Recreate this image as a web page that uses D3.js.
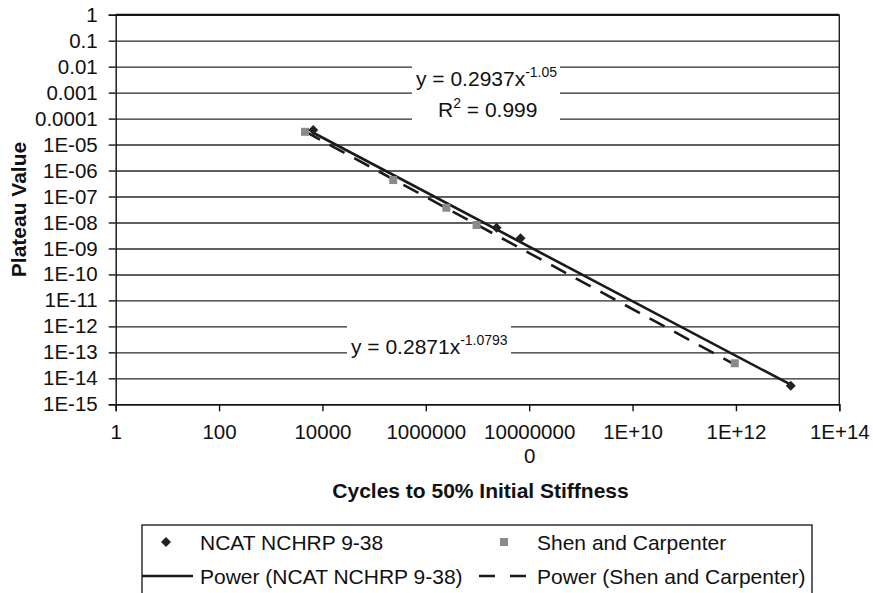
<!DOCTYPE html>
<html>
<head>
<meta charset="utf-8">
<script src="https://cdn.jsdelivr.net/npm/d3@7"></script>
<style>
  body { margin: 0; background: #fff; }
  text { font-family: "Liberation Sans", Arial, sans-serif; fill: #111; }
</style>
</head>
<body>
<div id="wrapper"></div>
<script>
// data
const ncatCycles = [6640, 2.34e7, 6.8e7, 1.15e13]
const ncatPlateau = [3.6e-5, 6.3e-9, 2.45e-9, 5.2e-15]
const shenCycles = [4600, 2.34e5, 2.5e6, 9.6e6, 9.5e11]
const shenPlateau = [3.1e-5, 4.3e-7, 3.7e-8, 8e-9, 3.8e-14]

// power trend lines y = a * x^b
const ncatFit = [0.2937, -1.05]
const shenFit = [0.2871, -1.0793]

const xTicks = [1, 1e2, 1e4, 1e6, 1e8, 1e10, 1e12, 1e14]
const xTickLabels = ["1", "100", "10000", "1000000", "10000000|0", "1E+10", "1E+12", "1E+14"]
const yTicks = [1, 1e-1, 1e-2, 1e-3, 1e-4, 1e-5, 1e-6, 1e-7, 1e-8, 1e-9, 1e-10, 1e-11, 1e-12, 1e-13, 1e-14, 1e-15]
const yTickLabels = ["1", "0.1", "0.01", "0.001", "0.0001", "1E-05", "1E-06", "1E-07", "1E-08", "1E-09",
    "1E-10", "1E-11", "1E-12", "1E-13", "1E-14", "1E-15"]

const width = 873, height = 593
const plotLeft = 115.7, plotRight = 839.3, plotTop = 14.7, plotBottom = 404.3

const x = d3.scaleLog().domain([1, 1e14]).range([plotLeft, plotRight])
const y = d3.scaleLog().domain([1e-15, 1]).range([plotBottom, plotTop])

const svg = d3.select("#wrapper")
    .append("svg")
        .attr("width", width)
        .attr("height", height)

// gridlines
svg.append("g")
    .attr("transform", `translate(${plotLeft},0)`)
    .call(d3.axisLeft(y).tickValues(yTicks).tickSize(-(plotRight - plotLeft)).tickFormat(""))
    .call(g => g.select(".domain").remove())
    .call(g => g.selectAll("line").attr("stroke", "#2a2a2a").attr("stroke-width", 1.4))

// plot border right + top
svg.append("line")
    .attr("x1", plotRight).attr("x2", plotRight).attr("y1", plotTop).attr("y2", plotBottom)
    .attr("stroke", "#222").attr("stroke-width", 1.4)
svg.append("line")
    .attr("x1", plotLeft).attr("x2", plotRight).attr("y1", plotTop).attr("y2", plotTop)
    .attr("stroke", "#111").attr("stroke-width", 2)

// y axis
svg.append("g")
    .attr("transform", `translate(${plotLeft},0)`)
    .call(d3.axisLeft(y).tickValues(yTicks).tickSize(7).tickPadding(11)
        .tickFormat((d, i) => yTickLabels[i]))
    .call(g => g.select(".domain").attr("stroke", "#111").attr("stroke-width", 1.4))
    .call(g => g.selectAll("line").attr("stroke", "#111").attr("stroke-width", 1.4))
    .call(g => g.selectAll("text")
        .attr("font-size", 20.5)
        .attr("font-family", "Liberation Sans, Arial, sans-serif")
        .attr("fill", "#111"))

// x axis
const xAxis = svg.append("g")
    .attr("transform", `translate(0,${plotBottom})`)
    .call(d3.axisBottom(x).tickValues(xTicks).tickSize(7).tickFormat(""))
    .call(g => g.select(".domain").attr("stroke", "#111").attr("stroke-width", 1.4))
    .call(g => g.selectAll("line").attr("stroke", "#111").attr("stroke-width", 1.4))

xAxis.selectAll(".tick").append("text")
    .attr("text-anchor", "middle")
    .attr("font-size", 20.5)
    .attr("font-family", "Liberation Sans, Arial, sans-serif")
    .attr("fill", "#111")
    .each(function (d, i) {
        const parts = xTickLabels[i].split("|")
        d3.select(this).selectAll("tspan")
            .data(parts)
            .join("tspan")
            .attr("x", 0)
            .attr("y", (p, j) => 35 + j * 24)
            .text(p => p)
    })

// axis titles
svg.append("text")
    .attr("transform", `translate(26,${(plotTop + plotBottom) / 2}) rotate(-90)`)
    .attr("text-anchor", "middle")
    .attr("font-size", 21)
    .attr("font-weight", "bold")
    .text("Plateau Value")

svg.append("text")
    .attr("x", (plotLeft + plotRight) / 2 + 3)
    .attr("y", 498)
    .attr("text-anchor", "middle")
    .attr("font-size", 21)
    .attr("font-weight", "bold")
    .text("Cycles to 50% Initial Stiffness")

// trend lines
const line = d3.line().x(d => x(d[0])).y(d => y(d[1]))
const fitPoints = (cycles, fit) => d3.extent(cycles).map(c => [c, fit[0] * Math.pow(c, fit[1])])

svg.append("path")
    .datum(fitPoints(shenCycles, shenFit))
    .attr("d", line)
    .attr("fill", "none")
    .attr("stroke", "#1a1a1a")
    .attr("stroke-width", 2.6)
    .attr("stroke-dasharray", "17,11")

svg.append("path")
    .datum(fitPoints(ncatCycles, ncatFit))
    .attr("d", line)
    .attr("fill", "none")
    .attr("stroke", "#1a1a1a")
    .attr("stroke-width", 2.6)

// markers
const square = d3.symbol().type(d3.symbolSquare)

svg.append("g")
    .selectAll("path")
    .data(shenCycles.map((c, i) => [c, shenPlateau[i]]))
    .join("path")
    .attr("d", square.size(64))
    .attr("transform", d => `translate(${x(d[0])},${y(d[1])})`)
    .attr("fill", "#8a8a8a")

svg.append("g")
    .selectAll("path")
    .data(ncatCycles.map((c, i) => [c, ncatPlateau[i]]))
    .join("path")
    .attr("d", square.size(50))
    .attr("transform", d => `translate(${x(d[0])},${y(d[1])}) rotate(45)`)
    .attr("fill", "#222")

// equation labels
const eq1 = svg.append("g")
eq1.append("rect")
    .attr("x", 412).attr("y", 62).attr("width", 148).attr("height", 63)
    .attr("fill", "#fff")
const t1 = eq1.append("text").attr("x", 416).attr("y", 86).attr("font-size", 21)
t1.append("tspan").text("y = 0.2937x")
t1.append("tspan").attr("font-size", 14).attr("dy", -9).text("-1.05")
const t2 = eq1.append("text").attr("x", 438).attr("y", 117).attr("font-size", 21)
t2.append("tspan").text("R")
t2.append("tspan").attr("font-size", 14).attr("dy", -9).text("2")
t2.append("tspan").attr("dy", 9).text(" = 0.999")

const eq2 = svg.append("g")
eq2.append("rect")
    .attr("x", 347).attr("y", 316).attr("width", 164).attr("height", 46)
    .attr("fill", "#fff")
const t3 = eq2.append("text").attr("x", 351).attr("y", 354).attr("font-size", 21)
t3.append("tspan").text("y = 0.2871x")
t3.append("tspan").attr("font-size", 14).attr("dy", -9).text("-1.0793")

// legend
const legend = svg.append("g")
legend.append("rect")
    .attr("x", 142).attr("y", 525).attr("width", 670).attr("height", 72)
    .attr("fill", "#fff").attr("stroke", "#222").attr("stroke-width", 1.4)

legend.append("path")
    .attr("d", square.size(50))
    .attr("transform", "translate(166,542) rotate(45)")
    .attr("fill", "#222")
legend.append("text").attr("x", 200).attr("y", 549.5).attr("font-size", 21).text("NCAT NCHRP 9-38")

legend.append("path")
    .attr("d", square.size(64))
    .attr("transform", "translate(504,542)")
    .attr("fill", "#8a8a8a")
legend.append("text").attr("x", 537).attr("y", 549.5).attr("font-size", 21).text("Shen and Carpenter")

legend.append("line")
    .attr("x1", 142).attr("x2", 193).attr("y1", 576).attr("y2", 576)
    .attr("stroke", "#1a1a1a").attr("stroke-width", 2.6)
legend.append("text").attr("x", 200).attr("y", 583.5).attr("font-size", 21).text("Power (NCAT NCHRP 9-38)")

legend.append("line")
    .attr("x1", 479).attr("x2", 529).attr("y1", 576).attr("y2", 576)
    .attr("stroke", "#1a1a1a").attr("stroke-width", 2.6)
    .attr("stroke-dasharray", "16,15")
legend.append("text").attr("x", 537).attr("y", 583.5).attr("font-size", 21).text("Power (Shen and Carpenter)")
</script>
</body>
</html>
